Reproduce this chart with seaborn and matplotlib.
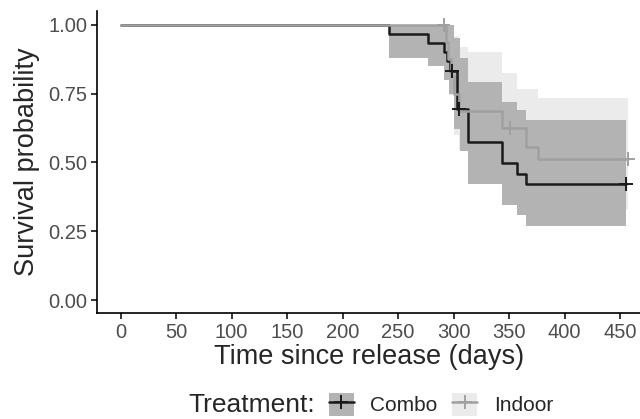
import numpy as np
import pandas as pd
import matplotlib
matplotlib.use('Agg')
import matplotlib.pyplot as plt
from matplotlib.lines import Line2D
from matplotlib.patches import Patch
from matplotlib.legend_handler import HandlerTuple
import seaborn as sns

GROUPS = ['Combo', 'Indoor']
LINE_COLORS = {'Combo': '#1a1a1a', 'Indoor': '#a0a0a0'}
FILL_COLORS = {'Combo': '#b3b3b3', 'Indoor': '#ebebeb'}

# Kaplan-Meier step values
combo_t = [0, 242, 277, 291, 294, 297, 303, 313, 344, 357, 365, 455]
combo_s = [1.0, 0.967, 0.933, 0.90, 0.867, 0.833, 0.694, 0.575, 0.498, 0.458, 0.42, 0.42]
indoor_t = [0, 293, 295, 298, 300, 305, 344, 365, 376, 457]
indoor_s = [1.0, 0.9375, 0.875, 0.8125, 0.75, 0.6875, 0.625, 0.556, 0.513, 0.513]

# confidence bands
combo_band_t = [242, 277, 291, 296, 300, 306, 313, 344, 357, 365, 455]
combo_lo = [0.88, 0.85, 0.80, 0.75, 0.62, 0.54, 0.42, 0.345, 0.31, 0.27, 0.27]
combo_hi = [1.0, 1.0, 1.0, 1.0, 0.95, 0.88, 0.79, 0.72, 0.69, 0.655, 0.655]
indoor_band_t = [291, 296, 300, 305, 313, 344, 357, 365, 376, 457]
indoor_lo = [0.82, 0.745, 0.60, 0.55, 0.47, 0.42, 0.40, 0.36, 0.33, 0.33]
indoor_hi = [1.0, 1.0, 0.96, 0.92, 0.90, 0.825, 0.765, 0.765, 0.735, 0.735]

# censored observations
combo_cens_t = [299, 305, 455]
combo_cens_s = [0.833, 0.694, 0.42]
indoor_cens_t = [291, 351, 457]
indoor_cens_s = [1.0, 0.625, 0.513]


def main():
    sns.set_theme(style='ticks')
    plt.rcParams['font.family'] = ['Liberation Sans', 'DejaVu Sans']

    curves = pd.concat([
        pd.DataFrame({'time': combo_t, 'surv': combo_s, 'Treatment': 'Combo'}),
        pd.DataFrame({'time': indoor_t, 'surv': indoor_s, 'Treatment': 'Indoor'}),
    ], ignore_index=True)
    cens = pd.concat([
        pd.DataFrame({'time': combo_cens_t, 'surv': combo_cens_s, 'Treatment': 'Combo'}),
        pd.DataFrame({'time': indoor_cens_t, 'surv': indoor_cens_s, 'Treatment': 'Indoor'}),
    ], ignore_index=True)

    fig = plt.figure(figsize=(6.4, 4.19), dpi=100)
    ax = fig.add_axes([0.152, 0.253, 0.848, 0.721])

    # indoor band first so the combo band covers the overlap with one tone
    ax.fill_between(indoor_band_t, indoor_lo, indoor_hi, step='post',
                    color=FILL_COLORS['Indoor'], lw=0)
    ax.fill_between(combo_band_t, combo_lo, combo_hi, step='post',
                    color=FILL_COLORS['Combo'], lw=0)

    sns.lineplot(data=curves, x='time', y='surv', hue='Treatment', hue_order=GROUPS,
                 palette=LINE_COLORS, drawstyle='steps-post', lw=1.8, ax=ax,
                 legend=False, estimator=None, sort=False)
    sns.scatterplot(data=cens, x='time', y='surv', hue='Treatment', hue_order=GROUPS,
                    palette=LINE_COLORS, marker='+', s=100, linewidth=1.4, ax=ax,
                    legend=False, zorder=5)

    ax.set_xlim(-21, 468)
    ax.set_ylim(-0.047, 1.05)
    ax.set_xticks(range(0, 451, 50))
    ax.set_yticks([0, 0.25, 0.5, 0.75, 1.0])
    ax.set_yticklabels(['0.00', '0.25', '0.50', '0.75', '1.00'])
    ax.tick_params(labelsize=14.5, labelcolor='#4d4d4d', length=4, width=1.1,
                   color='black', pad=3)
    for side in ['top', 'right']:
        ax.spines[side].set_visible(False)
    for side in ['left', 'bottom']:
        ax.spines[side].set_linewidth(1.2)
        ax.spines[side].set_color('black')
    ax.set_xlabel('Time since release (days)', fontsize=19.5, labelpad=2)
    ax.set_ylabel('Survival probability', fontsize=19.5, labelpad=6)

    handles = []
    for g in GROUPS:
        handles.append((Patch(facecolor=FILL_COLORS[g], edgecolor='none'),
                        Line2D([], [], color=LINE_COLORS[g], lw=1.8, marker='+',
                               markersize=10, markeredgewidth=1.4)))
    fig.text(0.492, 0.004, 'Treatment:', fontsize=19, ha='right', va='bottom')
    fig.legend(handles, GROUPS, handler_map={tuple: HandlerTuple(ndivide=1)},
               loc='lower left', bbox_to_anchor=(0.484, -0.037), ncol=2, frameon=False,
               fontsize=15, handlelength=1.2, handleheight=1.3, columnspacing=0.7,
               handletextpad=0.8)

    fig.savefig('out.png', dpi=100)


if __name__ == '__main__':
    main()
